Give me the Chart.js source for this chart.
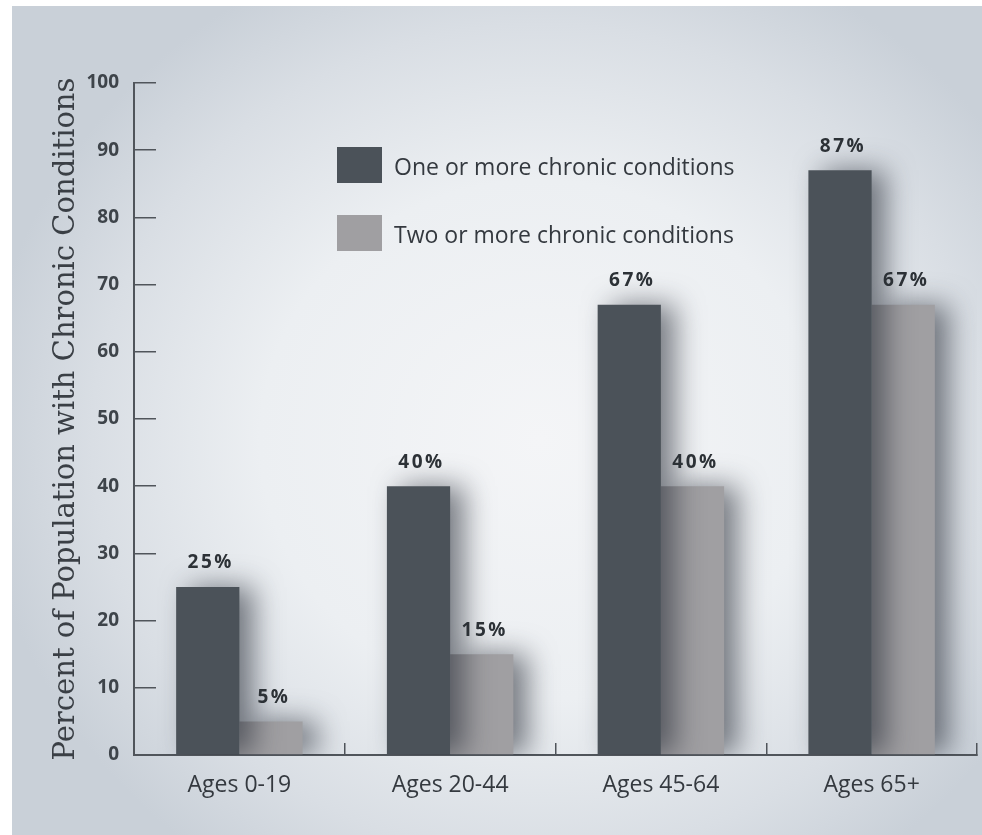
<!DOCTYPE html>
<html>
<head>
<meta charset="utf-8">
<script src="https://cdn.jsdelivr.net/npm/chart.js@4.4.1/dist/chart.umd.min.js"></script>
<style>
  html, body { margin: 0; padding: 0; background: #ffffff; }
  #wrap { width: 982px; height: 835px; position: relative; }
  canvas { display: block; }
</style>
</head>
<body>
<div id="wrap"><canvas id="chart" width="982" height="835"></canvas></div>
<script>
// Age groups and the share of each with chronic conditions (percent)
const ageGroups = ['Ages 0-19', 'Ages 20-44', 'Ages 45-64', 'Ages 65+'];
const oneOrMore = [25, 40, 67, 87];
const twoOrMore = [5, 15, 40, 67];
const seriesNames = ['One or more chronic conditions', 'Two or more chronic conditions'];
const yTicks = [0, 10, 20, 30, 40, 50, 60, 70, 80, 90, 100];
const yTitle = 'Percent of Population with Chronic Conditions';

const DARK = '#4b5259';
const LIGHT = '#a09fa2';
const INK = '#34393f';

// Soft grey backdrop with a light centre
const backdrop = {
  id: 'backdrop',
  beforeDraw(chart) {
    const ctx = chart.ctx;
    ctx.save();
    ctx.fillStyle = '#ffffff';
    ctx.fillRect(0, 0, chart.width, chart.height);
    const cx = 540, cy = 440, rx = 560, ry = 520;
    ctx.beginPath();
    ctx.rect(12, 6, chart.width - 12, chart.height - 6);
    ctx.clip();
    ctx.translate(cx, cy);
    ctx.scale(1, ry / rx);
    const g = ctx.createRadialGradient(0, 0, 0, 0, 0, rx);
    g.addColorStop(0, '#f4f5f7');
    g.addColorStop(0.5, '#eceff2');
    g.addColorStop(0.8, '#d9dee4');
    g.addColorStop(1, '#c9d0d8');
    ctx.fillStyle = g;
    ctx.fillRect(-cx - 10, -cy * rx / ry - 10, chart.width + 20, chart.height * rx / ry + 20);
    ctx.restore();
  }
};

// Drop shadows behind the bars, value labels above them
const barDecor = {
  id: 'barDecor',
  beforeDatasetsDraw(chart) {
    const ctx = chart.ctx;
    ctx.save();
    ctx.shadowColor = 'rgba(38, 44, 54, 0.6)';
    ctx.shadowBlur = 28;
    ctx.shadowOffsetX = 14;
    ctx.shadowOffsetY = 0;
  },
  afterDatasetsDraw(chart) {
    const ctx = chart.ctx;
    ctx.restore();
    ctx.save();
    ctx.font = 'bold 19px "Open Sans"';
    ctx.fillStyle = '#2c3136';
    ctx.textAlign = 'center';
    ctx.textBaseline = 'middle';
    if ('letterSpacing' in ctx) ctx.letterSpacing = '2.5px';
    chart.data.datasets.forEach((ds, di) => {
      const meta = chart.getDatasetMeta(di);
      meta.data.forEach((bar, i) => {
        ctx.fillText(ds.data[i] + '%', bar.x + 3, bar.y - 24);
      });
    });
    ctx.restore();
  }
};

// Legend boxes and labels inside the plot area
const boxLegend = {
  id: 'boxLegend',
  afterDraw(chart) {
    const ctx = chart.ctx;
    ctx.save();
    const x = 337, w = 45, h = 36;
    const rows = [147, 215];
    ctx.font = '23px "Open Sans"';
    ctx.textBaseline = 'middle';
    ctx.textAlign = 'left';
    chart.data.datasets.forEach((ds, i) => {
      ctx.fillStyle = ds.backgroundColor;
      ctx.fillRect(x, rows[i], w, h);
      ctx.fillStyle = INK;
      ctx.fillText(ds.label, x + 57, rows[i] + h / 2 + 3);
    });
    ctx.restore();
  }
};

new Chart(document.getElementById('chart'), {
  type: 'bar',
  data: {
    labels: ageGroups,
    datasets: [
      { label: seriesNames[0], data: oneOrMore, backgroundColor: DARK, borderWidth: 0 },
      { label: seriesNames[1], data: twoOrMore, backgroundColor: LIGHT, borderWidth: 0 }
    ]
  },
  options: {
    responsive: false,
    animation: false,
    events: [],
    datasets: { bar: { categoryPercentage: 0.6, barPercentage: 1.0 } },
    layout: { padding: { left: 0, right: 5, top: 83, bottom: 0 } },
    plugins: { legend: { display: false }, tooltip: { enabled: false } },
    scales: {
      x: {
        type: 'category',
        offset: true,
        afterFit(scale) { scale.height = 80; },
        grid: { display: true, drawOnChartArea: false, offset: true, tickLength: -12, color: '#50555b', lineWidth: 1.5 },
        border: { display: true, color: '#50555b', width: 2 },
        ticks: { color: INK, font: { family: 'Open Sans', size: 23 }, padding: 29, maxRotation: 0 }
      },
      y: {
        min: 0,
        max: 100,
        afterFit(scale) { scale.width = 134; },
        afterBuildTicks(scale) { scale.ticks = yTicks.map(v => ({ value: v })); },
        grid: { display: true, drawOnChartArea: false, tickLength: -22, color: '#50555b', lineWidth: 1.5 },
        border: { display: true, color: '#50555b', width: 2 },
        ticks: { color: '#3e444a', font: { family: 'Open Sans', size: 19, weight: 'bold' }, padding: 37 },
        title: {
          display: true,
          text: yTitle,
          color: '#3a3f45',
          font: { family: 'DejaVu Serif', size: 29 },
          padding: { top: 49, bottom: 0 }
        }
      }
    }
  },
  plugins: [backdrop, barDecor, boxLegend]
});
</script>
</body>
</html>
